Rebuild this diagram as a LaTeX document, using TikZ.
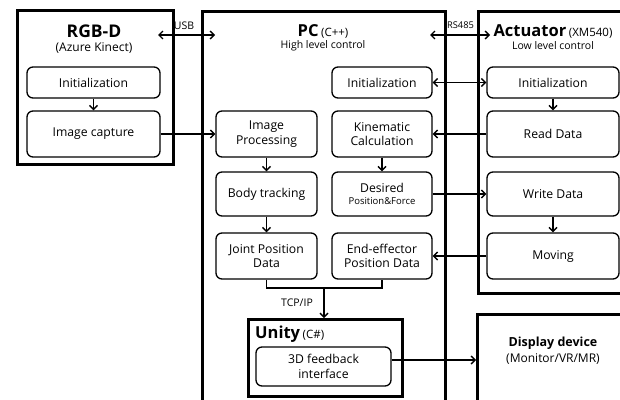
\documentclass[tikz,border=0pt]{standalone}
\usepackage{fontspec}
\setmainfont{Open Sans}
\usetikzlibrary{arrows.meta}
\begin{document}
\begin{tikzpicture}[x=1pt,y=-1pt,
  outer/.style={draw, line width=2.6pt, inner sep=0pt},
  blk/.style={draw, line width=1.3pt, rounded corners=6pt, align=center, inner sep=0pt,
    font=\fontsize{12.2}{14.5}\selectfont},
  tip/.tip={Straight Barb[length=4pt,width=8pt,line width=1.4pt]},
  arr/.style={line width=1.4pt, -tip},
  darr/.style={line width=1.4pt, tip-tip},
  ttl/.style={font=\fontsize{17.5}{19}\selectfont\bfseries, inner sep=0pt},
  sub/.style={font=\fontsize{12}{13}\selectfont, inner sep=0pt},
  small/.style={font=\fontsize{10.5}{12}\selectfont, inner sep=0pt},
]
\clip (0,0) rectangle (620,399);
% outer boxes
\node[outer, anchor=north west, minimum width=156pt, minimum height=154pt] (rgbd) at (16,9) {};
\node[outer, anchor=north west, minimum width=243pt, minimum height=420pt] (pc) at (201,10) {};
\node[outer, anchor=north west, minimum width=170pt, minimum height=282pt] (act) at (477,10) {};
\node[outer, anchor=north west, minimum width=154pt, minimum height=77pt] (unity) at (247,318) {};
\node[outer, anchor=north west, minimum width=170pt, minimum height=120pt] (disp) at (476,313) {};
% titles
\node[ttl] (rgbdt) at (94,31) {RGB-D};
\node[sub] (rgbds) at (94,48) {(Azure Kinect)};
\node[inner sep=0pt] (pct) at (323,31) {{\fontsize{16.5}{18}\selectfont\bfseries PC} {\fontsize{11.5}{13}\selectfont (C++)}};
\node[small] (pcs) at (323,46) {High level control};
\node[inner sep=0pt] (actt) at (553,31) {{\fontsize{16.5}{18}\selectfont\bfseries Actuator} {\fontsize{11.5}{13}\selectfont (XM540)}};
\node[small] (acts) at (553,46) {Low level control};
\node[inner sep=0pt, anchor=west] (unityt) at (255,334) {{\fontsize{16.5}{18}\selectfont\bfseries Unity} {\fontsize{11.5}{13}\selectfont (C\#)}};
\node[inner sep=0pt, font=\fontsize{12.5}{14}\selectfont\bfseries] (dispt) at (553,343) {Display device};
\node[sub] (disps) at (553,359) {(Monitor/VR/MR)};
% RGB-D blocks
\node[blk, minimum width=133pt, minimum height=31pt] (rinit) at (93.5,82.5) {Initialization};
\node[blk, minimum width=133pt, minimum height=46pt] (rcap) at (93.5,134) {Image capture};
% PC blocks
\node[blk, minimum width=100pt, minimum height=31pt] (pinit) at (382,82.5) {Initialization};
\node[blk, minimum width=101pt, minimum height=46pt] (pimg) at (266.5,134) {Image\\Processing};
\node[blk, minimum width=100pt, minimum height=46pt] (pkin) at (382,134) {Kinematic\\Calculation};
\node[blk, minimum width=101pt, minimum height=44pt] (pbody) at (266.5,194) {Body tracking};
\node[blk, minimum width=100pt, minimum height=44pt] (pdes) at (382,194) {Desired\\[-2pt]{\fontsize{9.5}{10}\selectfont Position\&Force}};
\node[blk, minimum width=101pt, minimum height=46pt] (pjoint) at (266.5,256) {Joint Position\\Data};
\node[blk, minimum width=100pt, minimum height=46pt] (pend) at (382,256) {End-effector\\Position Data};
% Actuator blocks
\node[blk, minimum width=132pt, minimum height=31pt] (ainit) at (553,82.5) {Initialization};
\node[blk, minimum width=132pt, minimum height=46pt] (aread) at (553,134) {Read Data};
\node[blk, minimum width=132pt, minimum height=44pt] (awrite) at (553,194) {Write Data};
\node[blk, minimum width=132pt, minimum height=46pt] (amove) at (553,256) {Moving};
% Unity block
\node[blk, minimum width=135pt, minimum height=39pt] (ufb) at (323.5,366.5) {3D feedback\\interface};
% labels
\node[small] (usb) at (184,26) {USB};
\node[inner sep=0pt, font=\fontsize{9.3}{11}\selectfont] (rs) at (460.5,25) {RS485};
\node[small] (tcp) at (297,303) {TCP/IP};
% connectors
\coordinate (usbL) at (158,35);
\coordinate (usbR) at (215,35);
\coordinate (rsL) at (430,35);
\coordinate (rsR) at (490,35);
\draw[darr] (usbL) -- (usbR);
\draw[darr] (rsL) -- (rsR);
\draw[arr] (rinit) -- (rcap);
\draw[arr] (rcap) -- (pimg);
\draw[arr] (pimg) -- (pbody);
\draw[arr] (pbody) -- (pjoint);
\draw[arr] (pkin) -- (pdes);
\draw[darr] (pinit) -- (ainit);
\draw[arr] (aread) -- (pkin);
\draw[arr] (pdes) -- (awrite);
\draw[arr] (amove) -- (pend);
\draw[arr] (ainit) -- (aread);
\draw[arr] (awrite) -- (amove);
\coordinate (merge) at (324,288);
\draw[line width=1.4pt] (pjoint.south) |- (merge) -| (pend.south);
\draw[arr] (merge) -- (merge |- unity.north);
\coordinate (fbout) at (ufb.east |- 0,360);
\draw[arr] (fbout) -- (fbout -| disp.west);
\end{tikzpicture}
\end{document}
